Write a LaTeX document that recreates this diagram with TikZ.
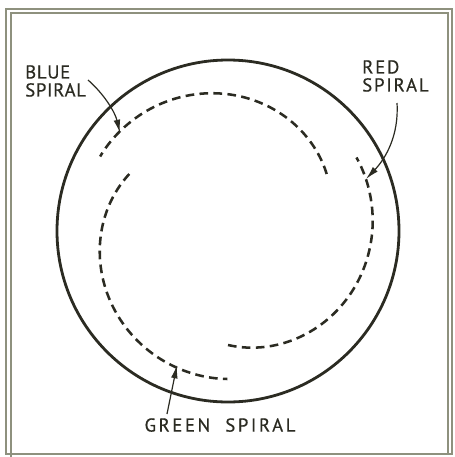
\documentclass[tikz,border=0pt]{standalone}
\usepackage{fontspec}
\setmainfont{PT Sans}[FakeBold=0.6]
\newfontfamily\lsA{PT Sans}[LetterSpace=4,FakeBold=0.6]
\newfontfamily\lsB{PT Sans}[LetterSpace=10,FakeBold=0.6]
\newfontfamily\lsC{PT Sans}[LetterSpace=14,FakeBold=0.6]
\usetikzlibrary{arrows.meta}
\definecolor{ink}{HTML}{2B2B22}
\definecolor{framec}{HTML}{8E917E}
\begin{document}
\begin{tikzpicture}[x=0.75pt,y=-0.75pt,
  framel/.style={draw=framec,line width=1.1pt},
  rim/.style={draw=ink,line width=2.1pt},
  spiralline/.style={draw=ink,line width=1.9pt,dash pattern=on 6.5pt off 4pt},
  leader/.style={draw=ink,line width=0.9pt,-{Latex[length=10pt,width=5pt]}},
  lbl/.style={text=ink,inner sep=0pt,align=left}]
\useasboundingbox (0,0) rectangle (454,457);
\fill[white] (0,0) rectangle (454,457);
% frame
\draw[framel] (6,9) rectangle (452,454);
\draw[framel] (11,457) -- (11,13) -- (448,13) -- (448,454);
% tube rim
\draw[rim] (228,231) circle[radius=171];
% spirals
\draw[spiralline] plot[domain=0:0.999,samples=80,variable=\t]
  ({228+(114+34*(1-(1-\t)^1.6))*cos(30+120*\t)},{231-(114+34*(1-(1-\t)^1.6))*sin(30+120*\t)});
\draw[spiralline] plot[domain=0:0.999,samples=80,variable=\t]
  ({228+(114+34*(1-(1-\t)^1.6))*cos(-90+120*\t)},{231-(114+34*(1-(1-\t)^1.6))*sin(-90+120*\t)});
\draw[spiralline] plot[domain=0:0.999,samples=80,variable=\t]
  ({228+(114+34*(1-(1-\t)^1.6))*cos(150+120*\t)},{231-(114+34*(1-(1-\t)^1.6))*sin(150+120*\t)});
% labels
\node[lbl,anchor=north west,font=\lsA\fontsize{14}{13.5}\selectfont] (blue) at (25,65) {BLUE\\SPIRAL};
\node[lbl,anchor=north west,font=\lsB\fontsize{14}{13.5}\selectfont] (red) at (362,60) {RED\\SPIRAL};
\node[lbl,anchor=north,font=\lsC\fontsize{14}{13.5}\selectfont] (green) at (220,418) {GREEN\ \ SPIRAL};
% leader ends
\coordinate (bs) at (88,80);
\coordinate (bt) at (120,133);
\coordinate (rs) at (397,103);
\coordinate (rt) at (366,179);
\coordinate (gs) at (167,414);
\coordinate (gt) at (177,365);
\draw[leader] (bs) .. controls (104,94) and (115,112) .. (bt);
\draw[leader] (rs) .. controls (399,135) and (386,158) .. (rt);
\draw[leader] (gs) -- (gt);
\end{tikzpicture}
\end{document}
